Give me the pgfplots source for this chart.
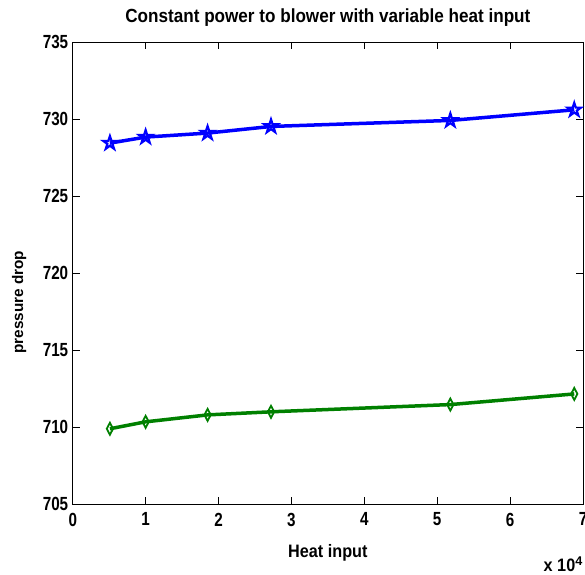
\documentclass[border=0pt]{standalone}
\usepackage{fontspec}
\setmainfont{Liberation Sans}
\newfontfamily\digitfont[FakeStretch=0.8]{Liberation Sans}
\newfontfamily\titlefont[FakeStretch=0.9]{Liberation Sans}
\usepackage{pgfplots}
\pgfplotsset{compat=1.18}
\pgfdeclareplotmark{pentagram}{%
  \pgfpathmoveto{\pgfqpointpolar{90}{\pgfplotmarksize}}%
  \pgfpathlineto{\pgfqpointpolar{126}{0.382\pgfplotmarksize}}%
  \pgfpathlineto{\pgfqpointpolar{162}{\pgfplotmarksize}}%
  \pgfpathlineto{\pgfqpointpolar{198}{0.382\pgfplotmarksize}}%
  \pgfpathlineto{\pgfqpointpolar{234}{\pgfplotmarksize}}%
  \pgfpathlineto{\pgfqpointpolar{270}{0.382\pgfplotmarksize}}%
  \pgfpathlineto{\pgfqpointpolar{306}{\pgfplotmarksize}}%
  \pgfpathlineto{\pgfqpointpolar{342}{0.382\pgfplotmarksize}}%
  \pgfpathlineto{\pgfqpointpolar{18}{\pgfplotmarksize}}%
  \pgfpathlineto{\pgfqpointpolar{54}{0.382\pgfplotmarksize}}%
  \pgfpathclose
  \pgfusepathqstroke
}
\begin{document}
\begin{tikzpicture}
\begin{axis}[
  scale only axis,
  width=510pt, height=462pt,
  xmin=0, xmax=70000, ymin=705, ymax=735,
  xtick={0,10000,20000,30000,40000,50000,60000,70000},
  xticklabels={0,1,2,3,4,5,6,7},
  ytick={705,710,715,720,725,730,735},
  scaled x ticks=false,
  tick align=inside,
  major tick length=7pt,
  tick style={black, line width=0.8pt},
  axis line style={black, line width=0.8pt},
  ticklabel style={font=\digitfont\bfseries\fontsize{19}{19}\selectfont},
  xticklabel style={yshift=-5pt},
  yticklabel style={/pgf/number format/1000 sep={}, xshift=-1pt},
  /pgf/number format/assume math mode=true,
  title={\titlefont\bfseries\fontsize{19}{19}\selectfont Constant power to blower with variable heat input},
  title style={at={(axis description cs:0.5,1)}, anchor=base, yshift=14pt},
  xlabel={\titlefont\bfseries\fontsize{18}{18}\selectfont Heat input},
  xlabel style={at={(axis description cs:0.5,-0.106)}, anchor=center},
  ylabel={\bfseries\fontsize{15.3}{15.3}\selectfont pressure drop},
  ylabel style={at={(axis description cs:-0.105,0.437)}, anchor=center, rotate=0},
]
\addplot[blue, line width=3.5pt, mark=pentagram, mark size=7pt, mark options={line width=2.2pt, solid, line join=miter}] coordinates {
(5100,728.44) (10000,728.83) (18500,729.09) (27200,729.52) (51800,729.91) (68800,730.60)
};
\addplot[green!50!black, line width=3.5pt, mark=diamond, mark size=6pt, mark options={line width=1.8pt, solid, xscale=0.7}] coordinates {
(5100,709.90) (10000,710.35) (18500,710.80) (27200,711.00) (51800,711.47) (68800,712.16)
};
\end{axis}
\node[anchor=base east, font=\titlefont\bfseries\fontsize{18}{18}\selectfont, inner sep=0pt] at ([yshift=-67pt]current axis.south east) {x 10$^{\mathbf{4}}$};
\pgfresetboundingbox
\path (current axis.south west) ++(-72.7pt,-70pt) coordinate (bl);
\path (current axis.north east) ++(2pt,42pt) coordinate (tr);
\useasboundingbox (bl) rectangle (tr);
\end{tikzpicture}
\end{document}
